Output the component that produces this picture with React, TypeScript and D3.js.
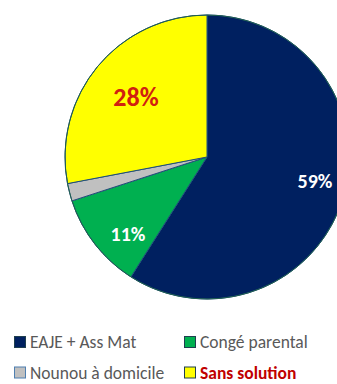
import React from "react";
import * as d3 from "d3";

const categories = ["EAJE + Ass Mat", "Congé parental", "Nounou à domicile", "Sans solution"];
const values = [59, 11, 2, 28];
const labels = ["59%", "11%", "", "28%"];
const colors = ["#002060", "#00b050", "#c0c0c0", "#ffff00"];
const legendOrder = [0, 1, 2, 3];

export default function App() {
  const W = 337, H = 384;
  const cx = 207, cy = 157, r = 142;
  const pie = d3.pie<number>().sort(null).value((d) => d)(values);
  const arc = d3.arc<d3.PieArcDatum<number>>().innerRadius(0).outerRadius(r);
  const labelPos = [
    [315, 181],
    [128, 234],
    [0, 0],
    [136, 97],
  ];
  const legendPos = [
    [14, 342],
    [184, 342],
    [14, 372.5],
    [184, 372.5],
  ];
  const font = "Carlito, Calibri, 'Open Sans', 'Noto Sans', sans-serif";
  return (
    <svg width={W} height={H} style={{ position: "absolute", left: 0, top: 0, background: "#fff" }}>
      <g transform={`translate(${cx},${cy})`}>
        {pie.map((p, i) => (
          <path key={i} d={arc(p) || ""} fill={colors[i]} stroke="#1f4e79" strokeWidth={1} />
        ))}
        <circle r={r} fill="none" stroke="#1f5e4f" strokeWidth={1} />
      </g>
      {labels.map((l, i) =>
        l ? (
          <text
            key={i}
            x={labelPos[i][0]}
            y={labelPos[i][1]}
            textAnchor="middle"
            dominantBaseline="central"
            fontFamily={font}
            fontWeight="bold"
            fontSize={i === 3 ? 26 : 20}
            fill={i === 3 ? "#d02010" : "#ffffff"}
          >
            {l}
          </text>
        ) : null
      )}
      {legendOrder.map((i, k) => (
        <g key={i} transform={`translate(${legendPos[k][0]},${legendPos[k][1]})`}>
          <rect x={0.5} y={-5.5} width={11} height={11} fill={colors[i]} stroke={i === 2 ? "#4f7fb0" : "#1f3f4f"} strokeWidth={1} />
          <text
            x={16}
            y={0}
            dominantBaseline="central"
            fontFamily={font}
            fontSize={17.5}
            fontWeight={i === 3 ? "bold" : "normal"}
            fill={i === 3 ? "#c00000" : "#595959"}
          >
            {categories[i]}
          </text>
        </g>
      ))}
    </svg>
  );
}
